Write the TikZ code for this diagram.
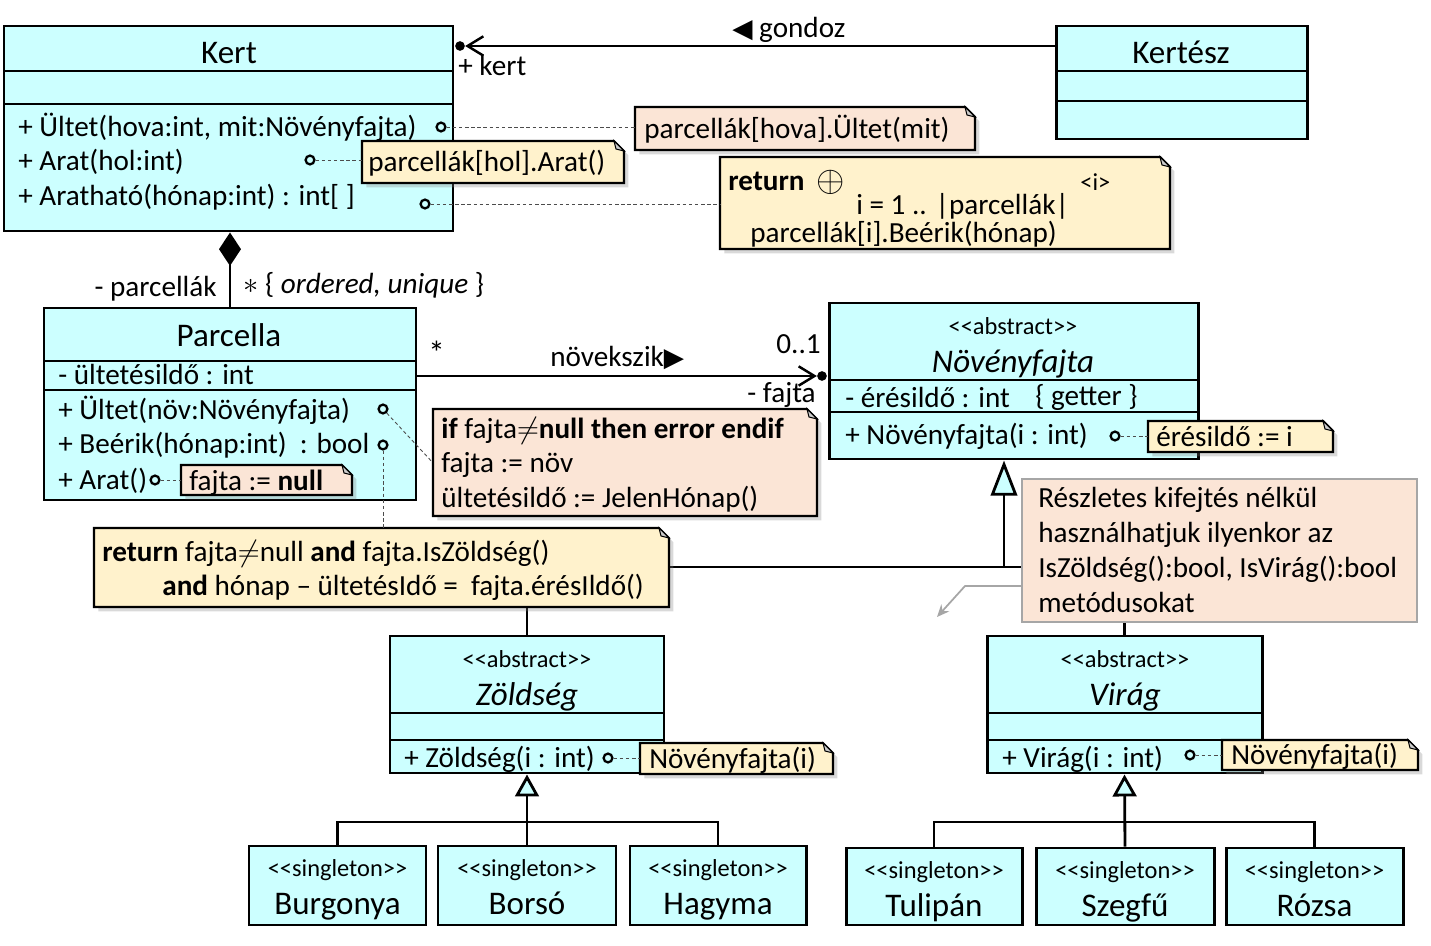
\documentclass[tikz,border=0pt]{standalone}
\usepackage{fontspec}
\setmainfont{Carlito}
\newfontfamily\arrowfont{DejaVu Sans}
\usetikzlibrary{arrows.meta,fit,shadows}

\definecolor{clsfill}{HTML}{CCFFFF}
\definecolor{noteyellow}{HTML}{FFF2CC}
\definecolor{notepink}{HTML}{FBE5D6}
\definecolor{notegray}{HTML}{A6A6A6}

\newcommand{\fmain}{\fontsize{16.6}{19.5}\selectfont}
\newcommand{\fname}{\fontsize{18.8}{21}\selectfont}
\newcommand{\fster}{\fontsize{13.9}{16}\selectfont}
\newcommand{\abstr}{<\kern0pt<abstract>\kern0pt>}
\newcommand{\singl}{<\kern0pt<singleton>\kern0pt>}

% note with folded corner: name, x1, y1, x2, y2, colour
\newcommand{\umlnote}[6]{%
  \path[draw, line width=1.2pt, fill=#6,
        drop shadow={shadow xshift=2.5pt, shadow yshift=-2.5pt, opacity=.3}]
    (#2,#3) -- ({#4-10},#3) -- (#4,{#3+10}) -- (#4,#5) -- (#2,#5) -- cycle;
  \draw[line width=.6pt, fill=black!20]
    ({#4-10},#3) -- ({#4-8},{#3+8}) -- (#4,{#3+10}) -- cycle;
  \node[fit={(#2,#3) (#4,#5)}, inner sep=0pt] (#1) {};
}

\begin{document}
\begin{tikzpicture}[x=0.02cm, y=-0.02cm,
    cls/.style={draw, line width=1.7pt, fill=clsfill, inner sep=0pt},
    cline/.style={line width=1.7pt},
    assoc/.style={line width=1.4pt},
    gen/.style={line width=1.6pt},
    txt/.style={inner sep=0pt, anchor=mid west, font=\fmain, yshift=-0.08cm},
    cname/.style={inner sep=0pt, anchor=mid, font=\fname, yshift=-0.12cm},
    ster/.style={inner sep=0pt, anchor=mid, font=\fster, yshift=-0.06cm},
    port/.style={circle, draw, line width=1.3pt, inner sep=0pt, minimum size=5pt},
    ball/.style={circle, fill, inner sep=0pt, minimum size=5.5pt},
    link/.style={dash pattern=on 2pt off 1.5pt, line width=0.5pt, black!70}]

  \useasboundingbox (0,0) rectangle (1431,946);

  % classes
  \node[cls, fit={(4,26) (453,231)}] (kert) {};
  \draw[cline] (4,71) -- (453,71) (4,104) -- (453,104);
  \node[cname] (kert-t) at (229,53) {Kert};
  \node[txt] (kert-m1) at (18,128) {+ Ültet(hova:int, mit:Növényfajta)};
  \node[txt] (kert-m2) at (18,162) {+ Arat(hol:int)};
  \node[txt] (kert-m3) at (18,197) {+ Aratható(hónap:int) : int[ ]};

  \node[cls, fit={(1056,26) (1307,139)}] (kertesz) {};
  \draw[cline] (1056,71) -- (1307,71) (1056,101) -- (1307,101);
  \node[cname] (kertesz-t) at (1181,53) {Kertész};

  \node[cls, fit={(44,308) (416,500)}] (parcella) {};
  \draw[cline] (44,361) -- (416,361) (44,390) -- (416,390);
  \node[cname] (parcella-t) at (229,336) {Parcella};
  \node[txt] (parcella-a1) at (58,376) {- ültetésildő : int};
  \node[txt] (parcella-m1) at (58,411) {+ Ültet(növ:Növényfajta)};
  \node[txt] (parcella-m2) at (58,445) {+ Beérik(hónap:int)\ \ : bool};
  \node[txt] (parcella-m3) at (58,481) {+ Arat()};

  \node[cls, fit={(829,303) (1198,459)}] (fajta) {};
  \draw[cline] (829,380) -- (1198,380) (829,412) -- (1198,412);
  \node[ster] (fajta-s) at (1013,327) {\abstr};
  \node[cname, font=\fname\itshape] (fajta-t) at (1013,362) {Növényfajta};
  \node[txt] (fajta-a1) at (845,399) {- érésildő : int};
  \node[txt] (fajta-a2) at (1035,397) {\{ getter \}};
  \node[txt] (fajta-m1) at (845,436) {+ Növényfajta(i : int)};

  \node[cls, fit={(390,636) (664,773)}] (zoldseg) {};
  \draw[cline] (390,713) -- (664,713) (390,740) -- (664,740);
  \node[ster] (zoldseg-s) at (527,660) {\abstr};
  \node[cname, font=\fname\itshape] (zoldseg-t) at (527,695) {Zöldség};
  \node[txt] (zoldseg-m1) at (404,759) {+ Zöldség(i : int)};

  \node[cls, fit={(987,636) (1262,773)}] (virag) {};
  \draw[cline] (987,713) -- (1262,713) (987,740) -- (1262,740);
  \node[ster] (virag-s) at (1125,660) {\abstr};
  \node[cname, font=\fname\itshape] (virag-t) at (1125,695) {Virág};
  \node[txt] (virag-m1) at (1002,759) {+ Virág(i : int)};

  % singletons
  \foreach \nm/\xa/\xb/\ya/\lbl in {burgonya/249/426/846/Burgonya, borso/438/616/846/Borsó,
      hagyma/630/806/846/Hagyma, tulipan/846/1022/848/Tulipán,
      szegfu/1036/1214/848/Szegfű, rozsa/1226/1403/848/Rózsa}{
    \node[cls, fit={(\xa,\ya) (\xb,925)}] (\nm) {};
    \node[ster] (\nm-s) at ({(\xa+\xb)/2},{\ya+23}) {\singl};
    \node[cname] (\nm-t) at ({(\xa+\xb)/2},{\ya+58}) {\lbl};
  }

  % generalizations
  \coordinate (gjoin) at (1004,567);
  \draw[gen] (zoldseg.north) |- (gjoin) -| (virag.north);
  \draw[gen, -{Triangle[length=20pt, width=15pt, fill=clsfill]}] (gjoin) -- (gjoin |- fajta.south);

  \coordinate (zjoin) at (527,822);
  \draw[gen] (burgonya.north) |- (zjoin) -| (hagyma.north);
  \draw[gen, -{Triangle[length=12.5pt, width=13.5pt, fill=clsfill]}] (borso.north) -- (zoldseg.south);

  \coordinate (vjoin) at (1125,822);
  \draw[gen] (tulipan.north) |- (vjoin) -| (rozsa.north);
  \draw[gen, -{Triangle[length=12.5pt, width=13.5pt, fill=clsfill]}] (szegfu.north) -- (virag.south);

  % associations
  \node[ball] (kball) at (460,46) {};
  \draw[assoc, -{Straight Barb[length=9pt, width=11pt]}] (kertesz.west |- kball) -- (kball);
  \node[txt] (gondoz) at (732,29) {{\arrowfont\fontsize{15}{16}\selectfont ◀} gondoz};
  \node[txt] (kert-role) at (458,67) {+ kert};

  \draw[assoc, -{Diamond[length=19pt, width=12.5pt]}] (parcella.north) -- (parcella.north |- kert.south);
  \node[txt, anchor=mid east] (parc-role) at (217,288) {- parcellák};
  \node[txt] (parc-mult) at (243,285) {$\ast$ \{ \textit{ordered, unique} \}};

  \node[ball] (fball) at (822,376) {};
  \draw[assoc, -{Straight Barb[length=9pt, width=11pt]}] (parcella.east |- fball) -- (fball);
  \node[txt, font=\fname] (nov-mult) at (428,356) {*};
  \node[txt] (novekszik) at (550,358) {növekszik{\arrowfont\fontsize{15}{16}\selectfont ▶}};
  \node[txt, anchor=mid east] (fajta-mult) at (821,345) {0..1};
  \node[txt, anchor=mid east] (fajta-role) at (816,394) {- fajta};

  % notes
  \umlnote{n1}{635}{107}{975}{150}{notepink}
  \node[txt] (n1-t) at (644,130) {parcellák[hova].Ültet(mit)};
  \umlnote{n2}{362}{141}{624}{183}{noteyellow}
  \node[txt] (n2-t) at (368,163) {parcellák[hol].Arat()};
  \umlnote{n3}{720}{157}{1170}{249}{noteyellow}
  \node[txt] (n3-a) at (728,182) {\textbf{return}};
  \node[txt, font=\fontsize{21}{21}\selectfont] (n3-b) at (816,183) {$\oplus$};
  \node[txt, font=\fster] (n3-c) at (1080,182) {<i>};
  \node[txt] (n3-d) at (856,206) {i = 1 .. |parcellák|};
  \node[txt] (n3-e) at (750,234) {parcellák[i].Beérik(hónap)};
  \umlnote{n4}{181}{465}{352}{495}{notepink}
  \node[txt] (n4-t) at (189,482) {fajta := \textbf{null}};
  \umlnote{n5}{433}{409}{817}{516}{notepink}
  \node[txt] (n5-a) at (441,430) {\textbf{if} fajta$\neq$\textbf{null then error endif}};
  \node[txt] (n5-b) at (441,464) {fajta := növ};
  \node[txt] (n5-c) at (441,499) {ültetésildő := JelenHónap()};
  \umlnote{n6}{94}{528}{669}{607}{noteyellow}
  \node[txt] (n6-a) at (102,553) {\textbf{return} fajta$\neq$null \textbf{and} fajta.IsZöldség()};
  \node[txt] (n6-b) at (162,587) {\textbf{and} hónap – ültetésIdő =\ \ fajta.érésIldő()};
  \umlnote{n7}{1148}{421}{1333}{452}{noteyellow}
  \node[txt] (n7-t) at (1156,438) {érésildő := i};
  \umlnote{n8}{640}{743}{833}{774}{noteyellow}
  \node[txt] (n8-t) at (649,760) {Növényfajta(i)};
  \umlnote{n9}{1222}{740}{1418}{770}{noteyellow}
  \node[txt] (n9-t) at (1231,756) {Növényfajta(i)};

  \node[draw=notegray, fill=notepink, line width=1.2pt, inner sep=0pt,
        fit={(1022,479) (1417,622)}] (n10) {};
  \node[txt] (n10-a) at (1038,499) {Részletes kifejtés nélkül};
  \node[txt] (n10-b) at (1038,534) {használhatjuk ilyenkor az};
  \node[txt] (n10-c) at (1038,569) {IsZöldség():bool, IsVirág():bool};
  \node[txt] (n10-d) at (1038,604) {metódusokat};
  \coordinate (hint) at (937,617);
  \draw[line width=1pt, notegray, -{Stealth[length=7pt, width=6pt]}]
    (n10.west |- 0,586) -- (965,586) -- (hint);

  % ports and their links to the notes
  \node[port] (pk1) at (441,127) {};
  \node[port] (pk2) at (310,160) {};
  \node[port] (pk3) at (425,204) {};
  \node[port] (pp1) at (383,409) {};
  \node[port] (pp2) at (383,445) {};
  \node[port] (pp3) at (155,480) {};
  \node[port] (pf1) at (1115,436) {};
  \node[port] (pz1) at (608,758) {};
  \node[port] (pv1) at (1190,755) {};
  \draw[link] (pk1) -- (pk1 -| n1.west);
  \draw[link] (pk2) -- (pk2 -| n2.west);
  \draw[link] (pk3) -- (pk3 -| n3.west);
  \draw[link] (pp1) -- (n5.west);
  \draw[link] (pp2) -- (pp2 |- n6.north);
  \draw[link] (pp3) -- (pp3 -| n4.west);
  \draw[link] (pf1) -- (pf1 -| n7.west);
  \draw[link] (pz1) -- (pz1 -| n8.west);
  \draw[link] (pv1) -- (pv1 -| n9.west);
\end{tikzpicture}
\end{document}
